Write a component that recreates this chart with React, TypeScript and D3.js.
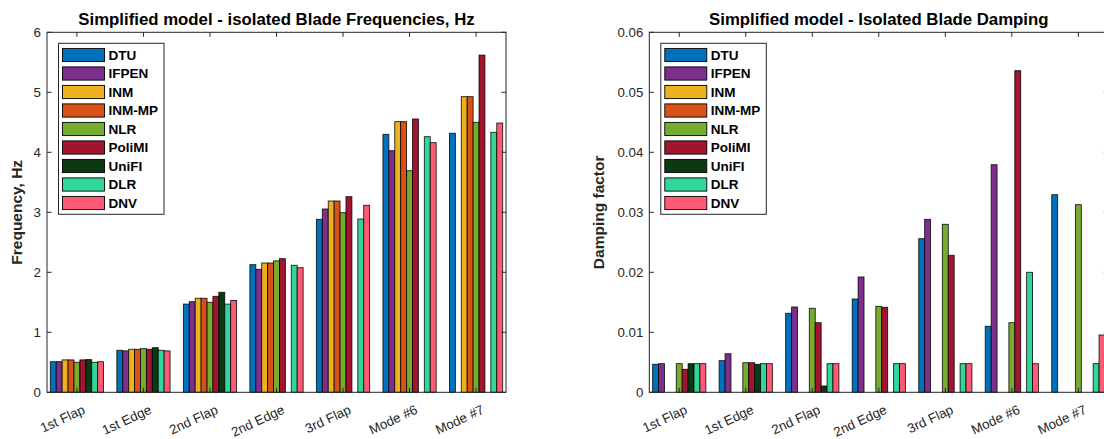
import React from "react";
import * as d3 from "d3";

const categories = ["1st Flap", "1st Edge", "2nd Flap", "2nd Edge", "3rd Flap", "Mode #6", "Mode #7"];
const models = ["DTU", "IFPEN", "INM", "INM-MP", "NLR", "PoliMI", "UniFI", "DLR", "DNV"];
const modelColors = ["#0072BD", "#7E2F8E", "#EDB120", "#D95319", "#77AC30", "#A2142F", "#0B3A12", "#33D69A", "#FF5A75"];

// Frequencies (Hz), one array per model, indexed by category
const freqDTU = [0.51, 0.70, 1.47, 2.127, 2.883, 4.30, 4.317];
const freqIFPEN = [0.51, 0.69, 1.51, 2.05, 3.055, 4.027, null];
const freqINM = [0.54, 0.717, 1.567, 2.155, 3.188, 4.51, 4.927];
const freqINMMP = [0.54, 0.717, 1.567, 2.155, 3.188, 4.51, 4.927];
const freqNLR = [0.50, 0.727, 1.50, 2.19, 2.993, 3.693, 4.50];
const freqPoliMI = [0.54, 0.717, 1.60, 2.227, 3.26, 4.555, 5.62];
const freqUniFI = [0.545, 0.743, 1.667, null, null, null, null];
const freqDLR = [0.50, 0.70, 1.47, 2.117, 2.888, 4.26, 4.333];
const freqDNV = [0.51, 0.69, 1.53, 2.077, 3.117, 4.16, 4.488];

// Damping factors
const dampDTU = [0.00467, 0.00527, 0.01317, 0.01555, 0.0256, 0.011, 0.03293];
const dampIFPEN = [0.00477, 0.00643, 0.01422, 0.01922, 0.02883, 0.03793, null];
const dampINM = [null, null, null, null, null, null, null];
const dampINMMP = [null, null, null, null, null, null, null];
const dampNLR = [0.00477, 0.00493, 0.014, 0.01433, 0.028, 0.0116, 0.03127];
const dampPoliMI = [0.00383, 0.00493, 0.0116, 0.01417, 0.02283, 0.0536, null];
const dampUniFI = [0.00477, 0.00467, 0.00105, null, null, null, null];
const dampDLR = [0.00477, 0.00477, 0.00477, 0.00477, 0.00477, 0.02, 0.00477];
const dampDNV = [0.00477, 0.00477, 0.00477, 0.00477, 0.00477, 0.00477, 0.00955];

const freqTicks = [0, 1, 2, 3, 4, 5, 6];
const dampTicks = [0, 0.01, 0.02, 0.03, 0.04, 0.05, 0.06];

const freqSeries = [freqDTU, freqIFPEN, freqINM, freqINMMP, freqNLR, freqPoliMI, freqUniFI, freqDLR, freqDNV];
const dampSeries = [dampDTU, dampIFPEN, dampINM, dampINMMP, dampNLR, dampPoliMI, dampUniFI, dampDLR, dampDNV];

const FONT = "'Liberation Sans', Arial, Helvetica, sans-serif";
const AX = "#262626";

type PanelProps = {
  left: number;
  right: number;
  title: string;
  ylabel: string;
  ylabelX: number;
  series: (number | null)[][];
  yMax: number;
  ticks: number[];
  tickFmt: (v: number) => string;
};

function Panel({ left, right, title, ylabel, ylabelX, series, yMax, ticks, tickFmt }: PanelProps) {
  const top = 32.3;
  const bottom = 392.3;
  const x = d3.scaleLinear().domain([0.55, 7.45]).range([left, right]);
  const y = d3.scaleLinear().domain([0, yMax]).range([bottom, top]);
  const nb = models.length;
  const gw = 0.8;
  const bw = gw / nb;
  const tl = 4.5;

  const bars: React.ReactNode[] = [];
  categories.forEach((c, ci) => {
    series.forEach((s, si) => {
      const v = s[ci];
      if (v === null || v === undefined) return;
      const x0 = x(ci + 1 - gw / 2 + si * bw);
      const x1 = x(ci + 1 - gw / 2 + (si + 1) * bw);
      bars.push(
        <rect
          key={`${ci}-${si}`}
          x={x0}
          y={y(v)}
          width={x1 - x0}
          height={y(0) - y(v)}
          fill={modelColors[si]}
          stroke="#000"
          strokeWidth={0.9}
          strokeOpacity={0.85}
        />
      );
    });
  });

  const legX = left + 11.5;
  const legY = 43.3;
  const legW = 105.5;
  const legH = 171;
  const rowH = 18.5;

  return (
    <g fontFamily={FONT}>
      <text x={(left + right) / 2} y={25} textAnchor="middle" fontWeight="bold" fontSize={16.8} fill="#000">
        {title}
      </text>
      {bars}
      {/* axes box */}
      <rect x={left} y={top} width={right - left} height={bottom - top} fill="none" stroke={AX} strokeWidth={1} />
      {/* x ticks */}
      {categories.map((c, ci) => (
        <g key={c}>
          <line x1={x(ci + 1)} x2={x(ci + 1)} y1={bottom} y2={bottom - tl} stroke={AX} strokeWidth={1} />
          <line x1={x(ci + 1)} x2={x(ci + 1)} y1={top} y2={top + tl} stroke={AX} strokeWidth={1} />
          <text
            transform={`translate(${x(ci + 1) + 5},${bottom + 12}) rotate(-25)`}
            textAnchor="end"
            dy="0.71em"
            fontSize={13.3}
            fill={AX}
          >
            {c}
          </text>
        </g>
      ))}
      {/* y ticks */}
      {ticks.map((t) => (
        <g key={t}>
          <line x1={left} x2={left + tl} y1={y(t)} y2={y(t)} stroke={AX} strokeWidth={1} />
          <line x1={right} x2={right - tl} y1={y(t)} y2={y(t)} stroke={AX} strokeWidth={1} />
          <text x={left - 6} y={y(t)} dy="0.35em" textAnchor="end" fontSize={13.3} fill={AX}>
            {tickFmt(t)}
          </text>
        </g>
      ))}
      <text
        transform={`translate(${ylabelX},${(top + bottom) / 2}) rotate(-90)`}
        textAnchor="middle"
        fontWeight="bold"
        fontSize={15.5}
        fill={AX}
      >
        {ylabel}
      </text>
      {/* legend */}
      <rect x={legX} y={legY} width={legW} height={legH} fill="#fff" stroke={AX} strokeWidth={1} />
      {models.map((m, i) => {
        const cy = legY + 11.7 + i * rowH;
        return (
          <g key={m}>
            <rect x={legX + 4} y={cy - 6.6} width={42} height={13.2} fill={modelColors[i]} stroke="#000" strokeWidth={0.9} />
            <text x={legX + 50} y={cy} dy="0.36em" fontWeight="bold" fontSize={13.5} fill="#000">
              {m}
            </text>
          </g>
        );
      })}
    </g>
  );
}

export default function App() {
  return (
    <svg
      width={1104}
      height={439}
      style={{ position: "absolute", left: 0, top: 0, display: "block", background: "#fff" }}
    >
      <rect x={0} y={0} width={1104} height={439} fill="#fff" />
      <Panel
        left={47}
        right={506}
        title="Simplified model - isolated Blade Frequencies, Hz"
        ylabel="Frequency, Hz"
        ylabelX={21.5}
        series={freqSeries}
        yMax={6}
        ticks={freqTicks}
        tickFmt={(v) => d3.format("d")(v)}
      />
      <Panel
        left={649.3}
        right={1108.3}
        title="Simplified model - Isolated Blade Damping"
        ylabel="Damping factor"
        ylabelX={604}
        series={dampSeries}
        yMax={0.06}
        ticks={dampTicks}
        tickFmt={(v) => (v === 0 ? "0" : d3.format(".2f")(v))}
      />
    </svg>
  );
}
